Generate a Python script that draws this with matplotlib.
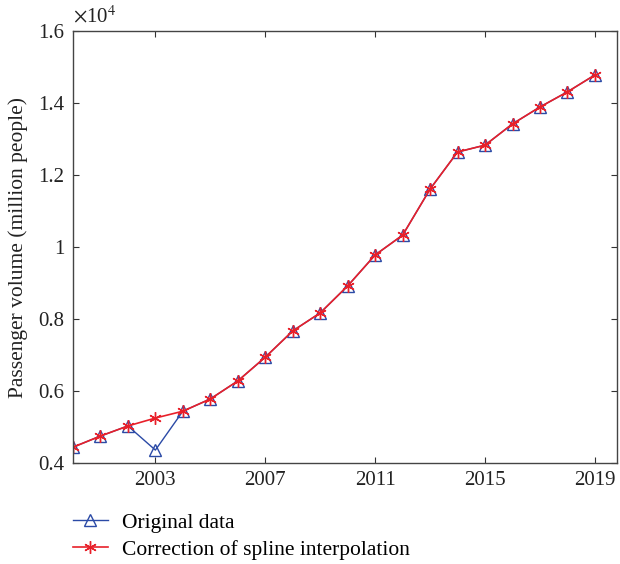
import matplotlib
matplotlib.use("Agg")
import matplotlib.pyplot as plt
from matplotlib.ticker import FuncFormatter

# passenger volume, units of 10^4 million people
years = list(range(2000, 2020))
original = [0.444, 0.475, 0.503, 0.436, 0.544, 0.578, 0.628, 0.694, 0.767, 0.817,
            0.892, 0.978, 1.033, 1.161, 1.264, 1.283, 1.342, 1.389, 1.431, 1.478]
corrected = [0.444, 0.475, 0.503, 0.525, 0.544, 0.578, 0.628, 0.694, 0.767, 0.817,
             0.892, 0.978, 1.033, 1.161, 1.264, 1.283, 1.342, 1.389, 1.431, 1.478]
xticks = [2003, 2007, 2011, 2015, 2019]
yticks = [0.4, 0.6, 0.8, 1.0, 1.2, 1.4, 1.6]

plt.rcParams['font.family'] = ['Liberation Serif', 'DejaVu Serif']
plt.rcParams['mathtext.fontset'] = 'stix'
fs = 15.5

fig = plt.figure(figsize=(6.2, 5.64), dpi=100)
ax = fig.add_axes([0.1177, 0.179, 0.8773, 0.766])

ax.plot(years, original, '-^', color='#2b4aa6', lw=1.0, ms=9,
        mfc='none', mec='#2b4aa6', mew=1.0, label='Original data')
ax.plot(years, corrected, '-', marker=(6, 2, 0), color='#e8202a', lw=1.2, ms=9,
        mec='#e8202a', mew=1.0, label='Correction of spline interpolation')

ax.set_xlim(2000, 2019.8)
ax.set_ylim(0.4, 1.6)
ax.set_xticks(xticks)
ax.set_yticks(yticks)
ax.yaxis.set_major_formatter(FuncFormatter(lambda v, p: '%g' % round(v, 2)))
ax.tick_params(direction='in', top=True, right=True, length=4, width=0.8,
               colors='#333333', labelcolor='#222222', labelsize=fs - 0.5, pad=6)
for s in ax.spines.values():
    s.set_color('#444444')
    s.set_linewidth(1.0)

ax.set_ylabel('Passenger volume (million people)', fontsize=fs, color='#222222')
ax.yaxis.set_label_coords(-0.083, 0.5)
ax.text(0.0, 1.008, r'$\times$10$^4$', transform=ax.transAxes, fontsize=fs - 0.5,
        color='#222222', ha='left', va='bottom')

fig.legend(loc='upper left', bbox_to_anchor=(0.117, 0.091), frameon=False,
           fontsize=fs, handlelength=1.65, handletextpad=0.65, labelspacing=0.33,
           borderaxespad=0, borderpad=0)

fig.savefig('out.png', dpi=100)
